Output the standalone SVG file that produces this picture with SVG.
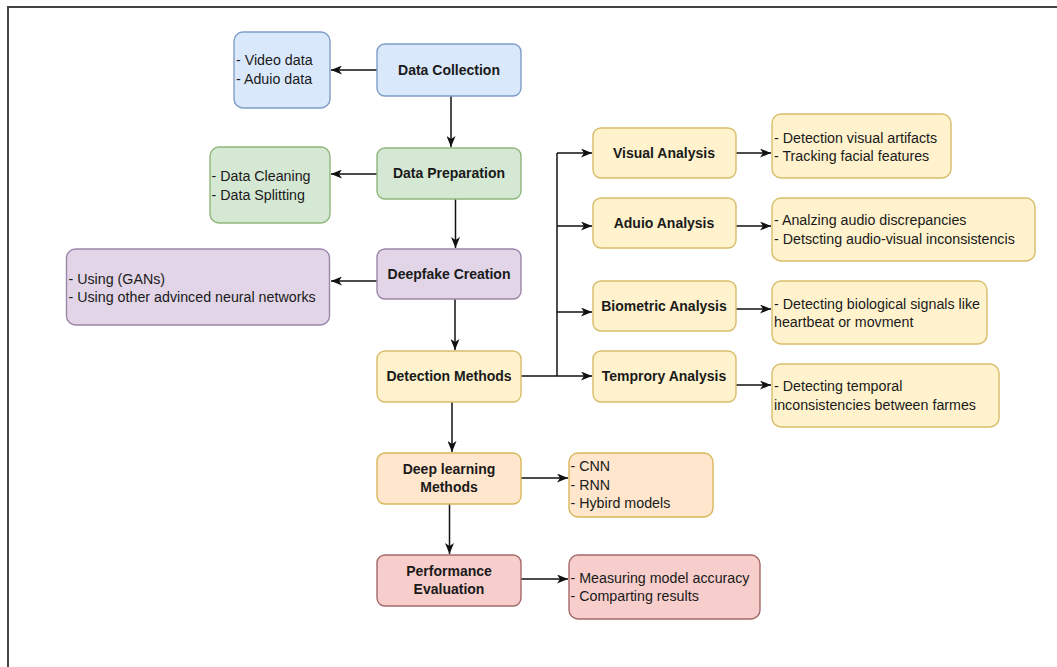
<svg xmlns="http://www.w3.org/2000/svg" width="1057" height="667" viewBox="0 0 1057 667">
<style>
  .n rect { stroke-width: 1.4; }
  .blue rect { fill: #dae8fc; stroke: #7f9dc8; }
  .green rect { fill: #d5e8d4; stroke: #8fb67a; }
  .purple rect { fill: #e1d5e7; stroke: #9c86a8; }
  .yellow rect { fill: #fff2cc; stroke: #d8bd6a; }
  .peach rect { fill: #ffe6cc; stroke: #d8b85a; }
  .red rect { fill: #f8cecc; stroke: #a46a68; }
  text { font-family: "Liberation Sans", Arial, sans-serif; font-size: 14.25px; fill: #1a1a1a; }
  .b { font-weight: bold; font-size: 14px; text-anchor: middle; }
  .conn line, .conn path { stroke: #111; stroke-width: 1.5; fill: none; }
  .frame { stroke: #444; stroke-width: 2; }
</style>
<defs>
  <marker id="arr" markerWidth="11" markerHeight="9" refX="11" refY="4.5" orient="auto" markerUnits="userSpaceOnUse">
    <path d="M0,0 L11,4.5 L0,9 L3,4.5 z" fill="#111"/>
  </marker>
</defs>
<rect x="0" y="0" width="1057" height="667" fill="#ffffff"/>
<line class="frame" x1="8" y1="7" x2="1057" y2="7"/>
<line class="frame" x1="8" y1="6" x2="8" y2="667"/>

<g class="conn">
  <line x1="377" y1="70" x2="331" y2="70" marker-end="url(#arr)"/>
  <line x1="451" y1="96" x2="451" y2="147" marker-end="url(#arr)"/>
  <line x1="377" y1="174" x2="331" y2="174" marker-end="url(#arr)"/>
  <line x1="455.5" y1="199" x2="455.5" y2="248" marker-end="url(#arr)"/>
  <line x1="377" y1="281" x2="331" y2="281" marker-end="url(#arr)"/>
  <line x1="455" y1="299" x2="455" y2="350" marker-end="url(#arr)"/>
  <line x1="521" y1="376" x2="557" y2="376"/>
  <line x1="557" y1="153" x2="557" y2="376"/>
  <line x1="557" y1="153" x2="592" y2="153" marker-end="url(#arr)"/>
  <line x1="557" y1="226" x2="592" y2="226" marker-end="url(#arr)"/>
  <line x1="557" y1="312" x2="592" y2="312" marker-end="url(#arr)"/>
  <line x1="557" y1="376" x2="592" y2="376" marker-end="url(#arr)"/>
  <line x1="736" y1="153" x2="771" y2="153" marker-end="url(#arr)"/>
  <line x1="736" y1="226" x2="771" y2="226" marker-end="url(#arr)"/>
  <line x1="736" y1="309" x2="771" y2="309" marker-end="url(#arr)"/>
  <line x1="736" y1="385" x2="771" y2="385" marker-end="url(#arr)"/>
  <line x1="452" y1="402" x2="452" y2="452" marker-end="url(#arr)"/>
  <line x1="521" y1="478" x2="568" y2="478" marker-end="url(#arr)"/>
  <line x1="449.5" y1="504" x2="449.5" y2="554" marker-end="url(#arr)"/>
  <line x1="521" y1="579" x2="568" y2="579" marker-end="url(#arr)"/>
</g>

<g id="data-collection" class="n blue">
  <rect x="377" y="44" width="144" height="52" rx="8"/>
  <text class="b" x="449" y="75">Data Collection</text>
</g>
<g id="collection-detail" class="n blue">
  <rect x="234" y="32" width="96" height="76" rx="9"/>
  <text x="236" y="65">- Video data</text>
  <text x="236" y="83.5">- Aduio data</text>
</g>
<g id="data-preparation" class="n green">
  <rect x="377" y="148" width="144" height="51" rx="8"/>
  <text class="b" x="449" y="178">Data Preparation</text>
</g>
<g id="preparation-detail" class="n green">
  <rect x="210" y="147" width="120" height="76" rx="9"/>
  <text x="211.5" y="181">- Data Cleaning</text>
  <text x="211.5" y="199.5">- Data Splitting</text>
</g>
<g id="deepfake-creation" class="n purple">
  <rect x="377" y="249" width="144" height="50" rx="8"/>
  <text class="b" x="449" y="279">Deepfake Creation</text>
</g>
<g id="creation-detail" class="n purple">
  <rect x="66.5" y="249" width="263" height="76" rx="9"/>
  <text x="68.5" y="283.5">- Using (GANs)</text>
  <text x="68.5" y="302">- Using other advinced neural networks</text>
</g>
<g id="detection-methods" class="n yellow">
  <rect x="377" y="351" width="144" height="51" rx="8"/>
  <text class="b" x="449" y="381">Detection Methods</text>
</g>
<g id="visual-analysis" class="n yellow">
  <rect x="593" y="128" width="143" height="50" rx="8"/>
  <text class="b" x="664" y="158">Visual Analysis</text>
</g>
<g id="visual-detail" class="n yellow">
  <rect x="772" y="114" width="179" height="64" rx="9"/>
  <text x="774" y="142.5">- Detection visual artifacts</text>
  <text x="774" y="161">- Tracking facial features</text>
</g>
<g id="audio-analysis" class="n yellow">
  <rect x="593" y="198" width="143" height="50" rx="8"/>
  <text class="b" x="664" y="228">Aduio Analysis</text>
</g>
<g id="audio-detail" class="n yellow">
  <rect x="772" y="198" width="263" height="63" rx="9"/>
  <text x="774" y="225">- Analzing audio discrepancies</text>
  <text x="774" y="243.5">- Detscting audio-visual inconsistencis</text>
</g>
<g id="biometric-analysis" class="n yellow">
  <rect x="593" y="281" width="143" height="50" rx="8"/>
  <text class="b" x="664" y="310.5">Biometric Analysis</text>
</g>
<g id="biometric-detail" class="n yellow">
  <rect x="772" y="281" width="215" height="63" rx="9"/>
  <text x="774" y="308.5">- Detecting biological signals like</text>
  <text x="774" y="327">heartbeat or movment</text>
</g>
<g id="temprory-analysis" class="n yellow">
  <rect x="593" y="351" width="143" height="51" rx="8"/>
  <text class="b" x="664" y="381">Temprory Analysis</text>
</g>
<g id="temprory-detail" class="n yellow">
  <rect x="772" y="364" width="227" height="63" rx="9"/>
  <text x="774" y="391">- Detecting temporal</text>
  <text x="774" y="409.5">inconsistencies between farmes</text>
</g>
<g id="deep-learning" class="n peach">
  <rect x="377" y="453" width="144" height="51" rx="8"/>
  <text class="b" x="449" y="473.5">Deep learning</text>
  <text class="b" x="449" y="492">Methods</text>
</g>
<g id="deep-learning-detail" class="n peach">
  <rect x="569" y="453" width="144" height="64" rx="9"/>
  <text x="570.5" y="470.5">- CNN</text>
  <text x="570.5" y="489.5">- RNN</text>
  <text x="570.5" y="508">- Hybird models</text>
</g>
<g id="performance-evaluation" class="n red">
  <rect x="377" y="555" width="144" height="51" rx="8"/>
  <text class="b" x="449" y="575.5">Performance</text>
  <text class="b" x="449" y="594">Evaluation</text>
</g>
<g id="performance-detail" class="n red">
  <rect x="569" y="555" width="191" height="64" rx="9"/>
  <text x="570.5" y="582.5">- Measuring model accuracy</text>
  <text x="570.5" y="601">- Comparting results</text>
</g>
</svg>
